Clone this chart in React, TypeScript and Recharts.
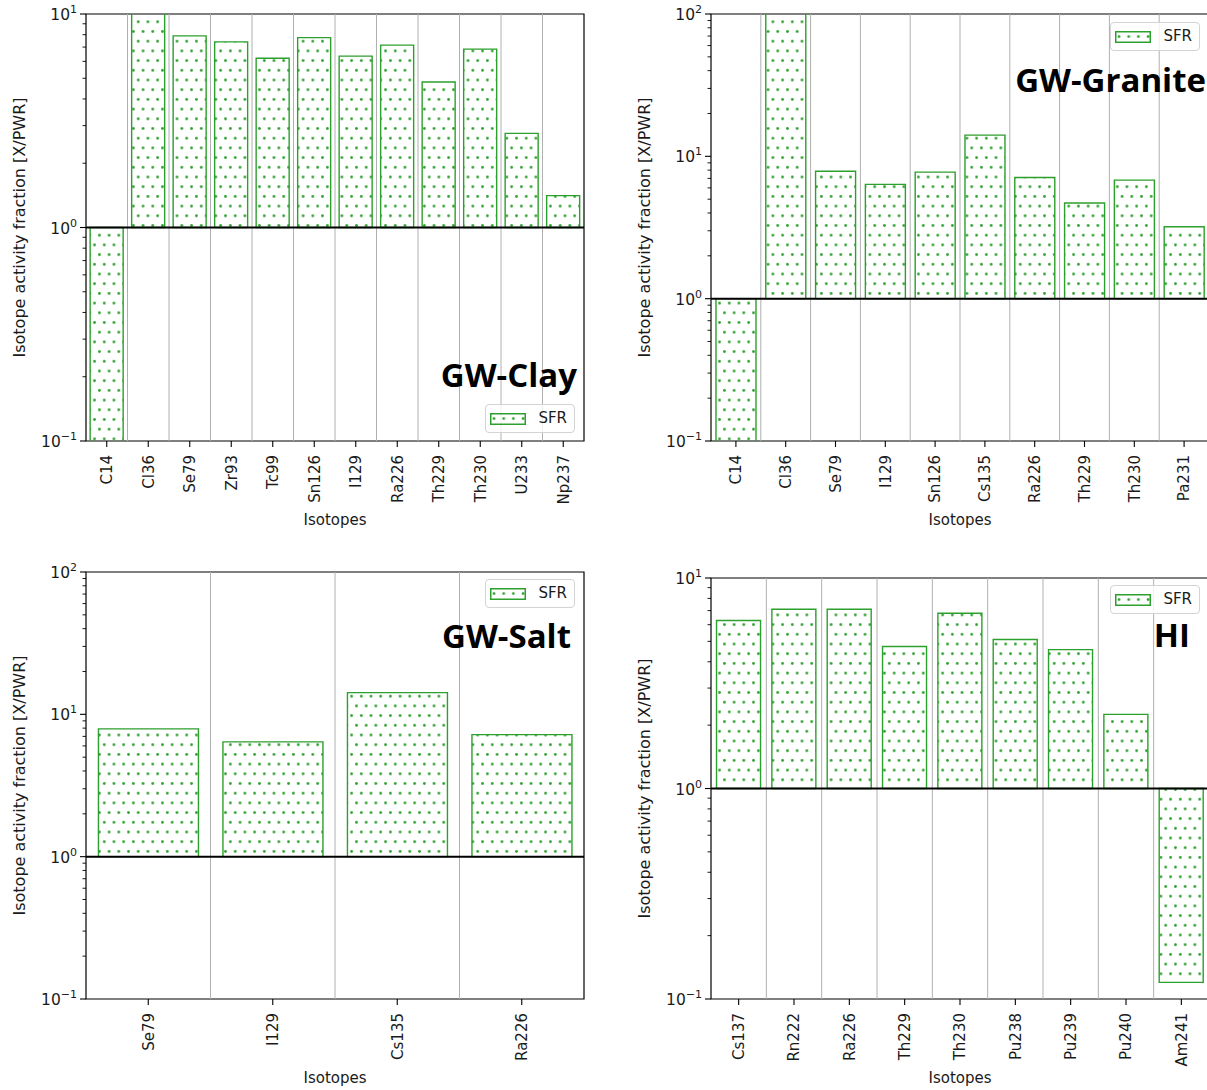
import React from 'react';
import { BarChart, Bar, XAxis, YAxis, ReferenceLine, ReferenceArea, Legend, Label } from 'recharts';

const GREEN = '#2ca02c';
const INK = '#1a1a1a';
const FONT = '"DejaVu Sans", sans-serif';

// GW-Clay
const clayIsotopes = ['C14', 'Cl36', 'Se79', 'Zr93', 'Tc99', 'Sn126', 'I129', 'Ra226', 'Th229', 'Th230', 'U233', 'Np237'];
const clayValues = [0.06, 150, 7.9, 7.4, 6.2, 7.75, 6.35, 7.15, 4.8, 6.85, 2.76, 1.41];

// GW-Granite
const graniteIsotopes = ['C14', 'Cl36', 'Se79', 'I129', 'Sn126', 'Cs135', 'Ra226', 'Th229', 'Th230', 'Pa231'];
const graniteValues = [0.06, 150, 7.85, 6.35, 7.75, 14.1, 7.1, 4.7, 6.8, 3.2];

// GW-Salt
const saltIsotopes = ['Se79', 'I129', 'Cs135', 'Ra226'];
const saltValues = [7.9, 6.4, 14.2, 7.2];

// HI
const hiIsotopes = ['Cs137', 'Rn222', 'Ra226', 'Th229', 'Th230', 'Pu238', 'Pu239', 'Pu240', 'Am241'];
const hiValues = [6.28, 7.1, 7.1, 4.73, 6.8, 5.1, 4.57, 2.25, 0.12];

// log axis ticks (majors get a label, the rest are minor marks)
const ticksTo10 = [0.1, 0.2, 0.3, 0.4, 0.5, 0.6, 0.7, 0.8, 0.9, 1, 2, 3, 4, 5, 6, 7, 8, 9, 10];
const ticksTo100 = [0.1, 0.2, 0.3, 0.4, 0.5, 0.6, 0.7, 0.8, 0.9, 1, 2, 3, 4, 5, 6, 7, 8, 9, 10,
  20, 30, 40, 50, 60, 70, 80, 90, 100];

const BASE = 1;

const LogTick = (props: any) => {
  const { x, y, payload } = props;
  const lg = Math.log10(payload.value);
  const e = Math.round(lg);
  const major = Math.abs(lg - e) < 1e-6;
  return (
    <g>
      <line x1={x} x2={x - (major ? 6 : 3.5)} y1={y} y2={y} stroke="#000" strokeWidth={major ? 1.1 : 0.9} />
      {major && (
        <text x={x - 9} y={y + 6} textAnchor="end" fontFamily={FONT} fontSize={15.5} fill={INK}>
          10
          <tspan dy={-7} fontSize={11}>{e < 0 ? `\u2212${-e}` : `${e}`}</tspan>
        </text>
      )}
    </g>
  );
};

const IsoTick = (props: any) => {
  const { x, y, payload } = props;
  const ty = y + 14;
  return (
    <g>
      <line x1={x} x2={x} y1={y} y2={y + 6} stroke="#000" strokeWidth={1.1} />
      <text x={x} y={ty} dy="0.36em" transform={`rotate(-90 ${x} ${ty})`} textAnchor="end"
        fontFamily={FONT} fontSize={15} fill={INK}>
        {payload.value}
      </text>
    </g>
  );
};

const SfrLegend = ({ patternId }: { patternId: string }) => (
  <div style={{
    display: 'flex', alignItems: 'center', border: '1px solid #d3d3d3', borderRadius: 4,
    background: 'rgba(255,255,255,0.8)', padding: '5px 7px 5px 4px',
    fontFamily: FONT, fontSize: 15, lineHeight: '17px', color: INK,
  }}>
    <svg width={36} height={12} style={{ display: 'block' }}>
      <rect x={0.75} y={0.75} width={34.5} height={10.5} fill={`url(#${patternId}-lg)`} stroke={GREEN} strokeWidth={1.5} />
      <defs>
        <pattern id={`${patternId}-lg`} patternUnits="userSpaceOnUse" width={9.7} height={19.4} x={0} y={1}>
          <circle cx={4} cy={4.5} r={1.4} fill={GREEN} />
          <circle cx={8.85} cy={14.2} r={1.4} fill={GREEN} />
        </pattern>
      </defs>
    </svg>
    <span style={{ marginLeft: 12 }}>SFR</span>
  </div>
);

type PanelProps = {
  id: string;
  isotopes: string[];
  values: number[];
  ticks: number[];
  left: number;
  top: number;
  height: number;
  legendTop: number;
};

const Panel = ({ id, isotopes, values, ticks, left, top, height, legendTop }: PanelProps) => {
  const data = isotopes.map((name, i) => ({ name, span: [BASE, values[i]] }));
  const domain = [ticks[0], ticks[ticks.length - 1]];
  return (
    <div style={{ position: 'absolute', left, top }}>
      <BarChart width={600} height={height} data={data} barCategoryGap="10%"
        margin={{ top: 14, right: 16, bottom: 0, left: 0 }}>
        <defs>
          <pattern id={id} patternUnits="userSpaceOnUse" width={9.7} height={19.4}>
            <circle cx={2.4} cy={2.4} r={1.4} fill={GREEN} />
            <circle cx={7.25} cy={12.1} r={1.4} fill={GREEN} />
          </pattern>
        </defs>
        <XAxis dataKey="name" type="category" interval={0} height={99}
          axisLine={false} tickLine={false} tickSize={0} tickMargin={0} tick={<IsoTick />}>
          <Label content={(p: any) => {
            const vb = p.viewBox;
            return (
              <text x={vb.x + vb.width / 2} y={vb.y + 84} textAnchor="middle"
                fontFamily={FONT} fontSize={15} fill={INK}>Isotopes</text>
            );
          }} />
        </XAxis>
        <YAxis type="number" scale="log" domain={domain} allowDataOverflow ticks={ticks} interval={0}
          width={86} axisLine={false} tickLine={false} tickSize={0} tickMargin={0} tick={<LogTick />}>
          <Label content={(p: any) => {
            const vb = p.viewBox;
            const cx = vb.x + 25;
            const cy = vb.y + vb.height / 2;
            return (
              <text x={cx} y={cy} transform={`rotate(-90 ${cx} ${cy})`} textAnchor="middle"
                fontFamily={FONT} fontSize={16} fill={INK}>Isotope activity fraction [X/PWR]</text>
            );
          }} />
        </YAxis>
        {isotopes.slice(1).map((n) => (
          <ReferenceLine key={n} x={n} position="start" stroke="#b0b0b0" strokeWidth={1} />
        ))}
        <Bar dataKey="span" fill={`url(#${id})`} stroke={GREEN} strokeWidth={1.4} isAnimationActive={false} />
        <ReferenceLine y={BASE} stroke="#000" strokeWidth={2} />
        <ReferenceArea y1={domain[0]} y2={domain[1]} fill="none" fillOpacity={0} stroke="#000" strokeWidth={1.2} />
        <Legend layout="horizontal" verticalAlign="middle" align="center"
          wrapperStyle={{ right: 25, top: legendTop, width: 'auto', height: 'auto' }}
          content={() => <SfrLegend patternId={id} />} />
      </BarChart>
    </div>
  );
};

const titleStyle = {
  fontFamily: '"Open Sans", sans-serif',
  fontWeight: 700,
  fontSize: 33,
  fill: '#000',
} as const;

export default function App() {
  return (
    <div style={{ position: 'absolute', left: 0, top: 0, width: 1207, height: 1090, overflow: 'hidden', background: '#fff' }}>
      <Panel id="dots-clay" isotopes={clayIsotopes} values={clayValues} ticks={ticksTo10}
        left={0} top={0} height={540} legendTop={404} />
      <Panel id="dots-granite" isotopes={graniteIsotopes} values={graniteValues} ticks={ticksTo100}
        left={625} top={0} height={540} legendTop={22} />
      <Panel id="dots-salt" isotopes={saltIsotopes} values={saltValues} ticks={ticksTo100}
        left={0} top={558} height={540} legendTop={21} />
      <Panel id="dots-hi" isotopes={hiIsotopes} values={hiValues} ticks={ticksTo10}
        left={625} top={564} height={534} legendTop={21} />
      <svg width={1207} height={1090} style={{ position: 'absolute', left: 0, top: 0, pointerEvents: 'none' }}>
        <text x={577} y={387} textAnchor="end" style={titleStyle}>GW-Clay</text>
        <text x={1206} y={92} textAnchor="end" style={titleStyle}>GW-Granite</text>
        <text x={571} y={648} textAnchor="end" style={titleStyle}>GW-Salt</text>
        <text x={1190} y={647} textAnchor="end" style={titleStyle}>HI</text>
      </svg>
    </div>
  );
}
